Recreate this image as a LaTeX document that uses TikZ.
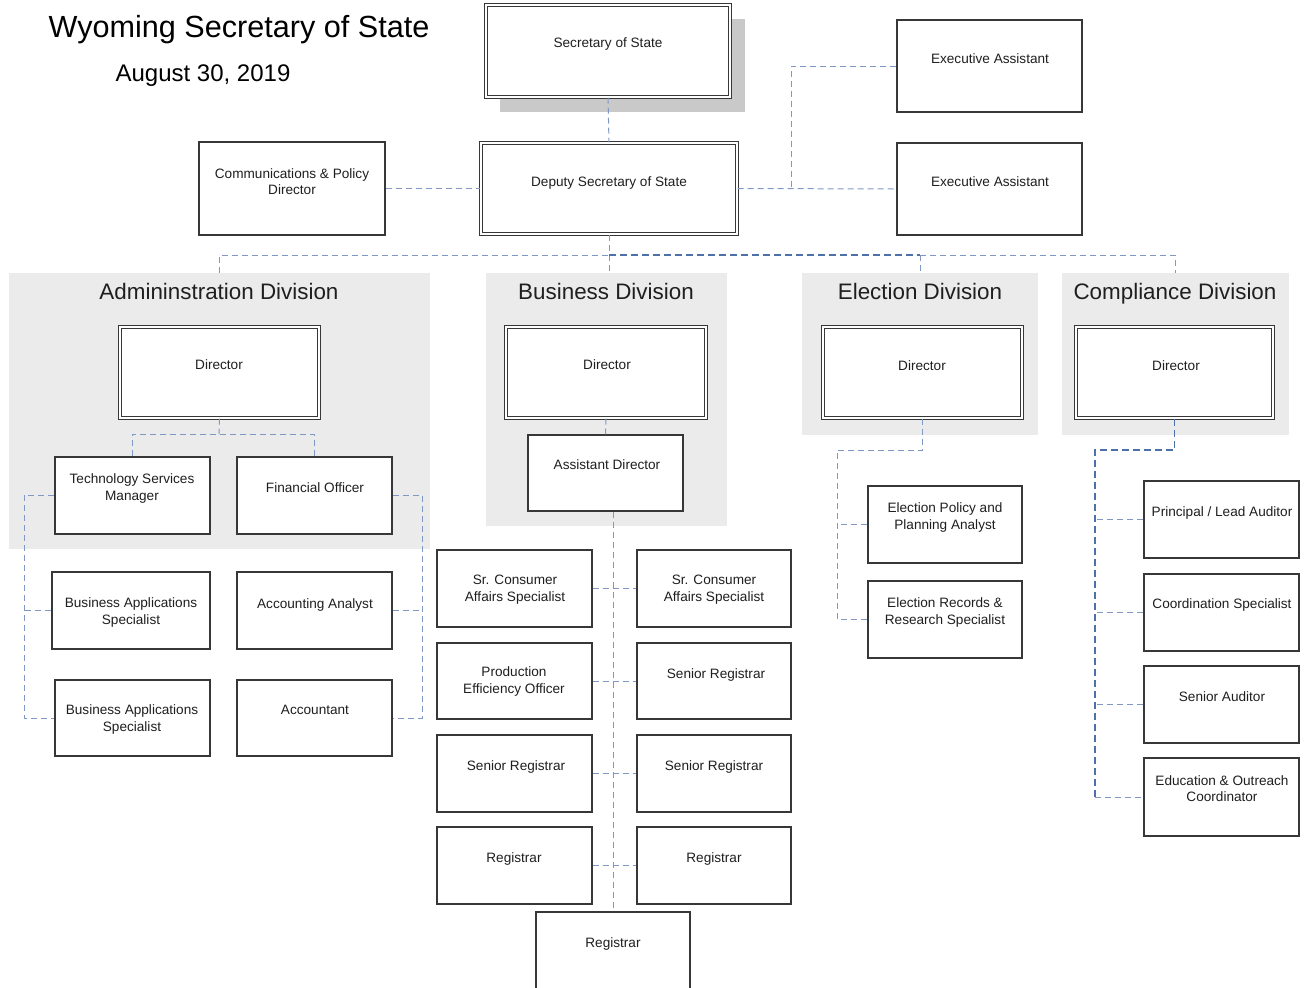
\documentclass[tikz,border=0pt]{standalone}
\usepackage{fontspec}
\setmainfont{Liberation Sans}
\usetikzlibrary{fit}

\definecolor{linkblue}{RGB}{128,152,196}
\definecolor{linkdark}{RGB}{78,112,170}
\definecolor{divgray}{RGB}{235,235,235}
\definecolor{shadowgray}{RGB}{201,201,201}
\definecolor{boxline}{RGB}{55,55,55}

\tikzset{
	box/.style={draw=boxline, fill=white, line width=0.6pt, inner sep=0pt},
	dbox/.style={draw=boxline, double=white, double distance=1.1pt, line width=0.55pt, fill=white, inner sep=0pt},
	divbg/.style={fill=divgray, inner sep=0pt},
	txt/.style={font=\fontsize{6.8}{8.3}\selectfont, align=center, inner sep=0pt, text=black!88, yshift=-0.75pt},
	divtitle/.style={font=\fontsize{11.2}{13}\selectfont, inner sep=0pt, anchor=base, text=black!88},
	link/.style={draw=linkblue, dash pattern=on 3pt off 2pt, line width=0.5pt},
	darklink/.style={draw=linkdark, dash pattern=on 3.5pt off 2pt, line width=0.75pt}
}

\begin{document}
\begin{tikzpicture}[x=0.5pt, y=-0.5pt]
	\useasboundingbox (0,0) rectangle (1307,987);

	\node[inner sep=0pt, anchor=base, font=\fontsize{15.3}{18}\selectfont] (ttl) at (239,37) {Wyoming Secretary of State};
	\node[inner sep=0pt, anchor=base, font=\fontsize{12}{14}\selectfont] (date) at (203,81) {August 30, 2019};

	\node[divbg, fit={(9,273) (430,549)}] (admbg) {};
	\node[divbg, fit={(486,273) (727,526)}] (busbg) {};
	\node[divbg, fit={(802,273) (1038,435)}] (elcbg) {};
	\node[divbg, fit={(1062,273) (1289,435)}] (cmpbg) {};
	\node[divtitle] (admbg-t) at (219,299) {Admininstration Division};
	\node[divtitle] (busbg-t) at (606,299) {Business Division};
	\node[divtitle] (elcbg-t) at (920,299) {Election Division};
	\node[divtitle] (cmpbg-t) at (1175,299) {Compliance Division};

	\node[fill=shadowgray, inner sep=0pt, fit={(500,19) (745,112)}] (sos-sh) {};
	\node[dbox, fit={(486,5) (730,97)}] (sos) {};
	\node[dbox, fit={(481,143) (737,234)}] (dep) {};
	\node[box, fit={(199,142) (385,235)}] (cpd) {};
	\node[box, fit={(897,20) (1082,112)}] (ea1) {};
	\node[box, fit={(897,143) (1082,235)}] (ea2) {};
	\node[txt] (sos-t) at (608,42) {Secretary of State};
	\node[txt] (dep-t) at (609,181) {Deputy Secretary of State};
	\node[txt] (cpd-t) at (292,180) {Communications \& Policy\\Director};
	\node[txt] (ea1-t) at (990,57) {Executive Assistant};
	\node[txt] (ea2-t) at (990,180) {Executive Assistant};

	\node[dbox, fit={(120,327) (319,418)}] (admdir) {};
	\node[dbox, fit={(506,327) (706,418)}] (busdir) {};
	\node[dbox, fit={(823,327) (1022,418)}] (elcdir) {};
	\node[dbox, fit={(1076,327) (1273,418)}] (cmpdir) {};
	\node[txt] (admdir-t) at (219,363) {Director};
	\node[txt] (busdir-t) at (607,363) {Director};
	\node[txt] (elcdir-t) at (922,364) {Director};
	\node[txt] (cmpdir-t) at (1176,364) {Director};

	\node[box, fit={(55,457) (210,534)}] (tsm) {};
	\node[box, fit={(237,457) (392,534)}] (fin) {};
	\node[box, fit={(52,572) (210,649)}] (ba1) {};
	\node[box, fit={(237,572) (392,649)}] (aca) {};
	\node[box, fit={(55,680) (210,756)}] (ba2) {};
	\node[box, fit={(237,680) (392,756)}] (acc) {};
	\node[txt] (tsm-t) at (132,487) {Technology Services\\Manager};
	\node[txt] (fin-t) at (315,486) {Financial Officer};
	\node[txt] (ba1-t) at (131,611) {Business Applications\\Specialist};
	\node[txt] (aca-t) at (315,603) {Accounting Analyst};
	\node[txt] (ba2-t) at (132,718) {Business Applications\\Specialist};
	\node[txt] (acc-t) at (315,708) {Accountant};

	\node[box, fit={(528,435) (683,511)}] (asd) {};
	\node[box, fit={(437,550) (592,627)}] (scl) {};
	\node[box, fit={(637,550) (791,627)}] (scr) {};
	\node[box, fit={(437,643) (592,719)}] (peo) {};
	\node[box, fit={(637,643) (791,719)}] (sr1) {};
	\node[box, fit={(437,735) (592,812)}] (sr2) {};
	\node[box, fit={(637,735) (791,812)}] (sr3) {};
	\node[box, fit={(437,827) (592,904)}] (rg1) {};
	\node[box, fit={(637,827) (791,904)}] (rg2) {};
	\node[box, fit={(536,912) (690,1000)}] (rg3) {};
	\node[txt] (asd-t) at (607,463) {Assistant Director};
	\node[txt] (scl-t) at (515,588) {Sr. Consumer\\Affairs Specialist};
	\node[txt] (scr-t) at (714,588) {Sr. Consumer\\Affairs Specialist};
	\node[txt] (peo-t) at (514,680) {Production\\Efficiency Officer};
	\node[txt] (sr1-t) at (716,673) {Senior Registrar};
	\node[txt] (sr2-t) at (516,765) {Senior Registrar};
	\node[txt] (sr3-t) at (714,765) {Senior Registrar};
	\node[txt] (rg1-t) at (514,857) {Registrar};
	\node[txt] (rg2-t) at (714,857) {Registrar};
	\node[txt] (rg3-t) at (613,942) {Registrar};

	\node[box, fit={(868,486) (1022,563)}] (eppa) {};
	\node[box, fit={(868,581) (1022,658)}] (errs) {};
	\node[txt] (eppa-t) at (945,516) {Election Policy and\\Planning Analyst};
	\node[txt] (errs-t) at (945,611) {Election Records \&\\Research Specialist};

	\node[box, fit={(1144,481) (1299,558)}] (pla) {};
	\node[box, fit={(1144,574) (1299,651)}] (crd) {};
	\node[box, fit={(1144,666) (1299,743)}] (sau) {};
	\node[box, fit={(1144,758) (1299,836)}] (edu) {};
	\node[txt] (pla-t) at (1222,511) {Principal / Lead Auditor};
	\node[txt] (crd-t) at (1222,603) {Coordination Specialist};
	\node[txt] (sau-t) at (1222,695) {Senior Auditor};
	\node[txt] (edu-t) at (1222,787) {Education \& Outreach\\Coordinator};

	\coordinate (eaj) at (791,189);
	\coordinate (bus) at (609,255);
	\coordinate (admj) at (219,434);
	\coordinate (admL) at (24,718);
	\coordinate (admR) at (422,718);
	\coordinate (elcT) at (837,450);
	\coordinate (cmpT) at (1095,450);

	\draw[link] (sos.south) -- (dep.north);
	\draw[link] (cpd.east) -- (dep.west);
	\draw[link] (dep.east) -- (ea2.west);
	\draw[link] (ea1.west) -| (eaj);
	\draw[link] (dep.south) -- (dep.south |- busbg.north);
	\draw[link] (admbg.north) -- (admbg.north |- bus) -- (bus);
	\draw[darklink] (bus) -- (elcbg.north |- bus);
	\draw[link] (elcbg.north |- bus) -- (cmpbg.north |- bus) -- (cmpbg.north);
	\draw[link] (elcbg.north |- bus) -- (elcbg.north);

	\draw[link] (admdir.south) -- (admj);
	\draw[link] (tsm.north) -- (tsm.north |- admj) -- (fin.north |- admj) -- (fin.north);
	\draw[link] (tsm.west) -| (admL) -- (ba2.west);
	\draw[link] (ba1.west) -- (ba1.west -| admL);
	\draw[link] (fin.east) -| (admR) -- (acc.east);
	\draw[link] (aca.east) -- (aca.east -| admR);

	\draw[link] (busdir.south) -- (asd.north);
	\draw[link] (asd.south -| rg3.north) -- (rg3.north);
	\draw[link] (scl.east) -- (scr.west);
	\draw[link] (peo.east) -- (sr1.west);
	\draw[link] (sr2.east) -- (sr3.west);
	\draw[link] (rg1.east) -- (rg2.west);

	\draw[link] (elcdir.south) |- (elcT) -- (elcT |- errs.west) -- (errs.west);
	\draw[link] (eppa.west) -- (eppa.west -| elcT);

	\draw[darklink] (cmpdir.south) |- (cmpT) -- (cmpT |- edu.west);
	\draw[link] (cmpT |- edu.west) -- (edu.west);
	\draw[link] (pla.west) -- (pla.west -| cmpT);
	\draw[link] (crd.west) -- (crd.west -| cmpT);
	\draw[link] (sau.west) -- (sau.west -| cmpT);
\end{tikzpicture}
\end{document}
